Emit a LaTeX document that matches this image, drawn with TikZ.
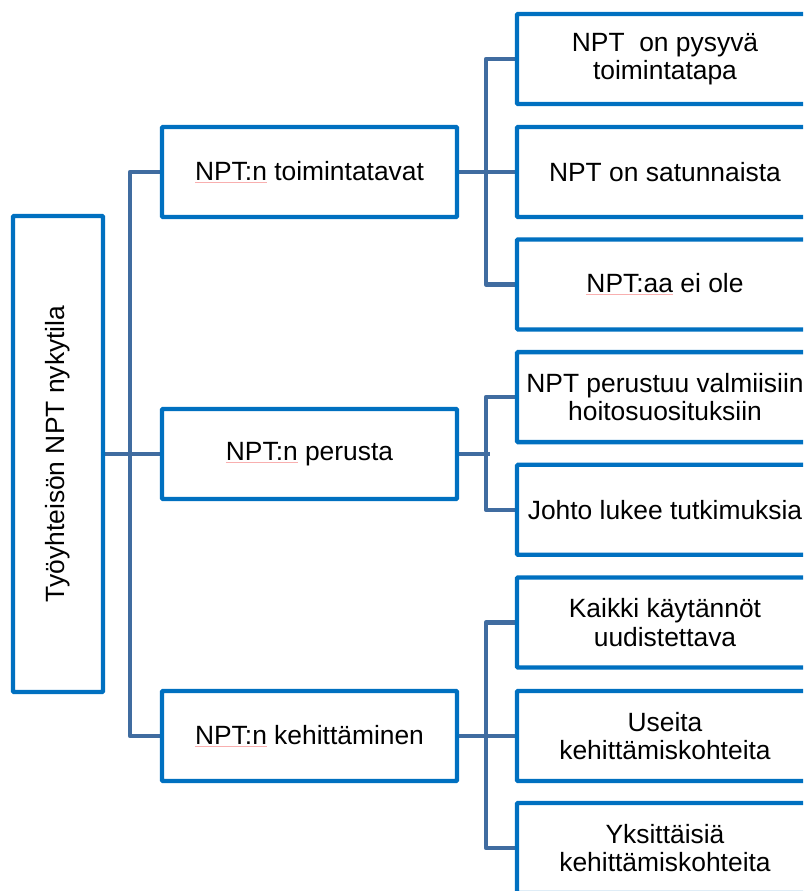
\documentclass[tikz,border=0pt]{standalone}
\usepackage{fontspec}
\setmainfont{Liberation Sans}
\usetikzlibrary{backgrounds}
\definecolor{boxblue}{RGB}{0,112,192}
\definecolor{linkblue}{RGB}{64,108,160}
\definecolor{spellred}{RGB}{248,175,175}
% faint spell-check underline below a word
\newcommand\spellmark[1]{\setbox0\hbox{#1}\rlap{\textcolor{spellred}{\rule[-2.2pt]{\wd0}{0.7pt}}}#1}
\begin{document}
\begin{tikzpicture}[x=1pt,y=-1pt,
  every node/.style={font=\fontsize{26.4}{28.5}\selectfont, align=center, inner sep=0pt},
  box/.style={draw=boxblue, line width=4.3pt, fill=white, rounded corners=1pt},
  rootbox/.style={box, minimum width=90pt, minimum height=476pt},
  midbox/.style={box, minimum width=295pt, minimum height=90pt},
  leafbox/.style={box, minimum width=296pt, minimum height=90pt},
  link/.style={draw=linkblue, line width=4.3pt, line join=round}]
\useasboundingbox (0,0) rectangle (803,891);
\clip (0,0) rectangle (803,891);

% boxes
\node[rootbox] (root) at (58,454) {\rotatebox{90}{Työyhteisön NPT nykytila}};
\node[midbox] (m1) at (309.5,172) {\spellmark{NPT:n} toimintatavat};
\node[midbox] (m2) at (309.5,454) {\spellmark{NPT:n} perusta};
\node[midbox] (m3) at (309.5,736) {\spellmark{NPT:n} kehittäminen};

\node[leafbox] (l1) at (665,59) {NPT\ \ on pysyvä\\toimintatapa};
\node[leafbox] (l2) at (665,172) {NPT on satunnaista};
\node[leafbox] (l3) at (665,284.4) {\spellmark{NPT:aa} ei ole};
\node[leafbox] (l4) at (665,397.1) {NPT perustuu valmiisiin\\hoitosuosituksiin};
\node[leafbox] (l5) at (665,509.8) {Johto lukee tutkimuksia};
\node[leafbox] (l6) at (665,622.5) {Kaikki käytännöt\\uudistettava};
\node[leafbox] (l7) at (665,736) {Useita\\kehittämiskohteita};
\node[leafbox] (l8) at (665,847.9) {Yksittäisiä\\kehittämiskohteita};

% connectors, drawn underneath the boxes
\begin{pgfonlayer}{background}
  \draw[link] (root.east) -- (m2.west);
  \draw[link] (m1.west) -- ++(-30,0) |- (m3.west);
  \draw[link] (l1.west) -- ++(-29,0) |- (l3.west);
  \draw[link] (m1.east) -- (l2.west);
  \draw[link] (l4.west) -- ++(-29,0) |- (l5.west);
  \draw[link] (m2.east) -- ++(31,0);
  \draw[link] (l6.west) -- ++(-29,0) |- (l8.west);
  \draw[link] (m3.east) -- (l7.west);
\end{pgfonlayer}
\end{tikzpicture}
\end{document}
